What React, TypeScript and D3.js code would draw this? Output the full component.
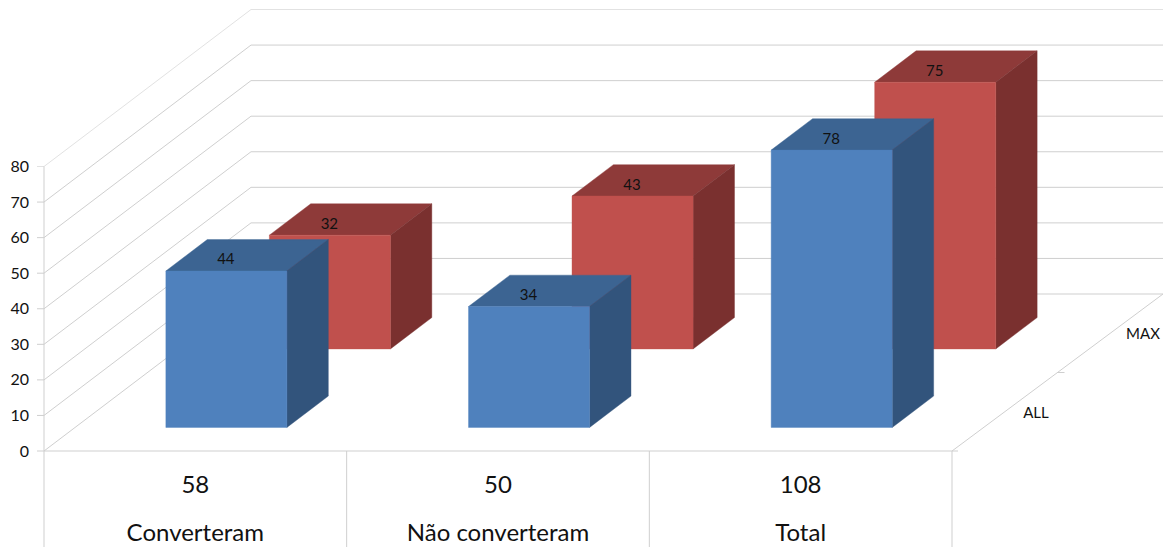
import React from "react";
import * as d3 from "d3";

const categories = ["Converteram", "Não converteram", "Total"];
const totals = [58, 50, 108];
const seriesNames = ["ALL", "MAX"];
const allValues = [44, 34, 78];
const maxValues = [32, 43, 75];
const yTicks = [0, 10, 20, 30, 40, 50, 60, 70, 80];

const W = 1165;
const H = 547;
const FONT = "Lato, 'Open Sans', sans-serif";
const INK = "#111";

// Front edge of the floor and the offset of its back edge
const x = d3.scaleBand<string>().domain(categories).range([44, 952]);
const y = d3.scaleLinear().domain([0, 80]).range([451, 166.5]);
const depthX = d3.scaleLinear().domain([0, 1]).range([0, 207]);
const depthY = d3.scaleLinear().domain([0, 1]).range([0, -157]);
const depth = d3.scaleBand<string>().domain(seriesNames).range([0, 1]).paddingInner(0.6).paddingOuter(0.3);

const backRight = 1163;

const pt = (px: number, value: number, d: number): [number, number] => [px + depthX(d), y(value) + depthY(d)];
const poly = (pts: [number, number][]) => d3.line()(pts)! + "Z";

const palettes = [
  { front: "#4f81bd", top: "#3c6492", side: "#32547c" },
  { front: "#c0504d", top: "#8e3a39", side: "#7a302f" },
];

function Bar({ cat, value, series, index }: { cat: string; value: number; series: string; index: number }) {
  const bw = x.bandwidth() * 0.4;
  const x0 = x(cat)! + (x.bandwidth() - bw) / 2;
  const x1 = x0 + bw;
  const d0 = depth(series)!;
  const d1 = d0 + depth.bandwidth();
  const c = palettes[index];
  const top = [pt(x0, value, d0), pt(x1, value, d0), pt(x1, value, d1), pt(x0, value, d1)] as [number, number][];
  const side = [pt(x1, 0, d0), pt(x1, value, d0), pt(x1, value, d1), pt(x1, 0, d1)] as [number, number][];
  const front = [pt(x0, 0, d0), pt(x1, 0, d0), pt(x1, value, d0), pt(x0, value, d0)] as [number, number][];
  const [lx, ly] = pt((x0 + x1) / 2, value, d0);
  return (
    <g>
      <path d={poly(top)} fill={c.top} stroke={c.top} strokeWidth={0.4} />
      <path d={poly(side)} fill={c.side} stroke={c.side} strokeWidth={0.4} />
      <path d={poly(front)} fill={c.front} stroke={c.front} strokeWidth={0.4} />
      <text x={lx - 0.5} y={ly - 6.5} textAnchor="middle" fontSize={15} fill={INK}>{value}</text>
    </g>
  );
}

export default function App() {
  const grid = "#cfcfcf";
  const right = x.range()[1];
  const left = x.range()[0];
  const floorBack = pt(left, 0, 1)[1];
  const midDepth: [number, number] = [(right + backRight) / 2, (y(0) + floorBack) / 2];
  return (
    <svg width={W} height={H} style={{ position: "fixed", left: 0, top: 0, display: "block" }} fontFamily={FONT}>
      <rect width={W} height={H} fill="#fff" />
      {yTicks.map((t) => {
        const [bx, by] = pt(left, t, 1);
        return (
          <g key={t} stroke={t === 80 ? "#e2e2e2" : grid} fill="none">
            <line x1={left} y1={y(t)} x2={bx} y2={by} />
            <line x1={bx} y1={by} x2={backRight} y2={by} />
            <line x1={left - 7} y1={y(t)} x2={left} y2={y(t)} />
          </g>
        );
      })}
      {/* floor edges and the table under the categories */}
      <g stroke={grid} fill="none">
        <line x1={right} y1={y(0)} x2={backRight} y2={floorBack} />
        <line x1={left} y1={y(0)} x2={right + 6} y2={y(0)} />
        <line x1={left} y1={y(80)} x2={left} y2={H} />
        {categories.map((c) => (
          <line key={c} x1={x(c)! + x.bandwidth()} y1={y(0)} x2={x(c)! + x.bandwidth()} y2={H} />
        ))}
        <line x1={midDepth[0]} y1={midDepth[1]} x2={midDepth[0] + 7} y2={midDepth[1]} />
      </g>
      {categories.map((c, i) => <Bar key={c} cat={c} value={maxValues[i]} series="MAX" index={1} />)}
      {categories.map((c, i) => <Bar key={c} cat={c} value={allValues[i]} series="ALL" index={0} />)}
      {yTicks.map((t) => (
        <text key={t} x={29} y={y(t) + 5.5} textAnchor="end" fontSize={16} fill={INK}>{t}</text>
      ))}
      {categories.map((c, i) => (
        <g key={c} textAnchor="middle" fontSize={24} fill={INK}>
          <text x={x(c)! + x.bandwidth() / 2} y={493}>{totals[i]}</text>
          <text x={x(c)! + x.bandwidth() / 2} y={541}>{c}</text>
        </g>
      ))}
      <text x={1036} y={418} textAnchor="middle" fontSize={15} fill={INK}>{seriesNames[0]}</text>
      <text x={1143} y={339} textAnchor="middle" fontSize={15} fill={INK}>{seriesNames[1]}</text>
    </svg>
  );
}
